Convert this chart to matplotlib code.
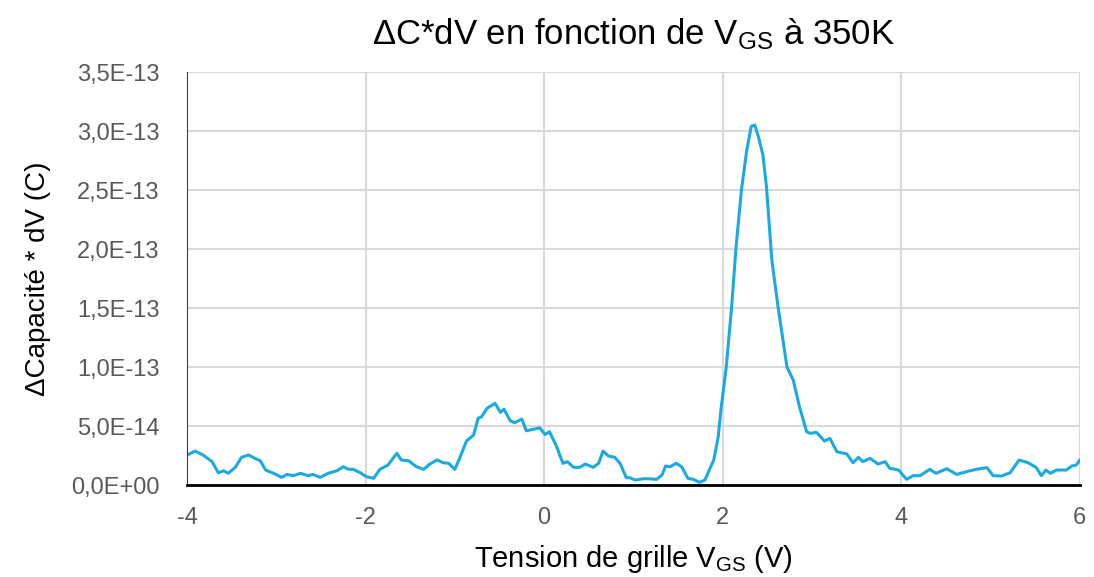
import matplotlib
matplotlib.use("Agg")
import matplotlib.pyplot as plt
from matplotlib.ticker import FuncFormatter, MultipleLocator

# tension de grille (V) et DeltaC*dV (en 1e-14 C)
vgs = [-4.00, -3.91, -3.82, -3.72, -3.65, -3.59, -3.54, -3.46, -3.39, -3.31,
       -3.24, -3.18, -3.12, -3.03, -2.94, -2.88, -2.81, -2.73, -2.64, -2.59,
       -2.51, -2.42, -2.32, -2.25, -2.19, -2.14, -2.06, -1.99, -1.91, -1.84,
       -1.75, -1.65, -1.60, -1.52, -1.43, -1.35, -1.28, -1.20, -1.13, -1.07,
       -1.00, -0.94, -0.87, -0.79, -0.74, -0.70, -0.64, -0.55, -0.49, -0.45,
       -0.38, -0.33, -0.25, -0.20, -0.12, -0.05, 0.01, 0.06, 0.14, 0.21,
       0.26, 0.33, 0.40, 0.46, 0.55, 0.61, 0.66, 0.72, 0.79, 0.85,
       0.92, 0.96, 1.02, 1.11, 1.18, 1.26, 1.32, 1.36, 1.41, 1.48,
       1.54, 1.61, 1.67, 1.74, 1.80, 1.85, 1.90, 1.95, 1.98, 2.04,
       2.10, 2.15, 2.21, 2.27, 2.32, 2.36, 2.40, 2.45, 2.49, 2.55,
       2.62, 2.72, 2.79, 2.86, 2.94, 2.98, 3.05, 3.14, 3.20, 3.28,
       3.39, 3.46, 3.52, 3.57, 3.65, 3.74, 3.82, 3.87, 3.97, 4.06,
       4.13, 4.21, 4.32, 4.39, 4.51, 4.62, 4.73, 4.84, 4.96, 5.03,
       5.12, 5.22, 5.32, 5.42, 5.51, 5.57, 5.62, 5.67, 5.74, 5.85,
       5.91, 5.96, 6.00]
dcdv = [2.54, 2.88, 2.54, 1.98, 1.04, 1.21, 0.99, 1.50, 2.35, 2.54,
        2.26, 2.06, 1.27, 0.99, 0.65, 0.90, 0.79, 0.99, 0.79, 0.90,
        0.65, 0.99, 1.21, 1.55, 1.33, 1.33, 1.04, 0.70, 0.57, 1.33,
        1.69, 2.69, 2.12, 2.06, 1.55, 1.33, 1.78, 2.12, 1.89, 1.84,
        1.33, 2.40, 3.73, 4.24, 5.65, 5.79, 6.50, 6.92, 6.16, 6.42,
        5.45, 5.28, 5.59, 4.60, 4.72, 4.85, 4.28, 4.52, 3.25, 1.84,
        1.98, 1.50, 1.50, 1.78, 1.50, 1.84, 2.88, 2.46, 2.35, 1.84,
        0.62, 0.62, 0.42, 0.53, 0.53, 0.48, 0.85, 1.61, 1.55, 1.84,
        1.55, 0.57, 0.48, 0.23, 0.42, 1.27, 2.12, 4.09, 6.36, 10.0,
        15.1, 20.2, 25.0, 28.4, 30.4, 30.5, 29.5, 28.0, 25.3, 19.1,
        15.1, 10.0, 8.9, 6.64, 4.52, 4.38, 4.46, 3.73, 3.95, 2.82,
        2.63, 1.89, 2.35, 1.98, 2.26, 1.78, 1.98, 1.42, 1.27, 0.48,
        0.79, 0.79, 1.33, 0.99, 1.38, 0.90, 1.13, 1.33, 1.47, 0.79,
        0.76, 1.04, 2.12, 1.89, 1.50, 0.79, 1.27, 0.99, 1.27, 1.27,
        1.61, 1.69, 2.10]
dcdv = [v * 1e-14 for v in dcdv]

plt.rcParams['font.family'] = ['Liberation Sans', 'DejaVu Sans']
plt.rcParams['mathtext.fontset'] = 'custom'
plt.rcParams['mathtext.rm'] = 'Liberation Sans'
plt.rcParams['axes.unicode_minus'] = False

fig = plt.figure(figsize=(10.94, 5.77), dpi=100)
ax = fig.add_axes([0.171, 0.1594, 0.816, 0.7158])

ax.plot(vgs, dcdv, color="#1BA9E1", linewidth=2.2)

ax.set_xlim(-4, 6)
ax.set_ylim(0, 3.5e-13)
ax.xaxis.set_major_locator(MultipleLocator(2))
ax.yaxis.set_major_locator(MultipleLocator(0.5e-13))
ax.yaxis.set_major_formatter(FuncFormatter(lambda v, p: f"{v:.1E}".replace(".", ",")))

ax.grid(True, color="#D9D9D9", linewidth=1.5)
ax.set_axisbelow(True)
for s in ["top", "right"]:
    ax.spines[s].set_visible(False)
ax.spines["left"].set_color("#404040")
ax.spines["bottom"].set_color("black")
ax.spines["bottom"].set_linewidth(2)
ax.tick_params(length=0, labelsize=17, colors="#595959")
ax.tick_params(axis="x", pad=16)
ax.tick_params(axis="y", pad=20)

ax.set_title(r"ΔC*dV en fonction de $\mathregular{V_{GS}}$ à 350K", fontsize=25, pad=20)
ax.set_xlabel(r"Tension de grille $\mathregular{V_{GS}}$ (V)", fontsize=21, labelpad=10)
ax.set_ylabel("ΔCapacité * dV (C)", fontsize=20, labelpad=14)

fig.savefig("out.png", dpi=100)
